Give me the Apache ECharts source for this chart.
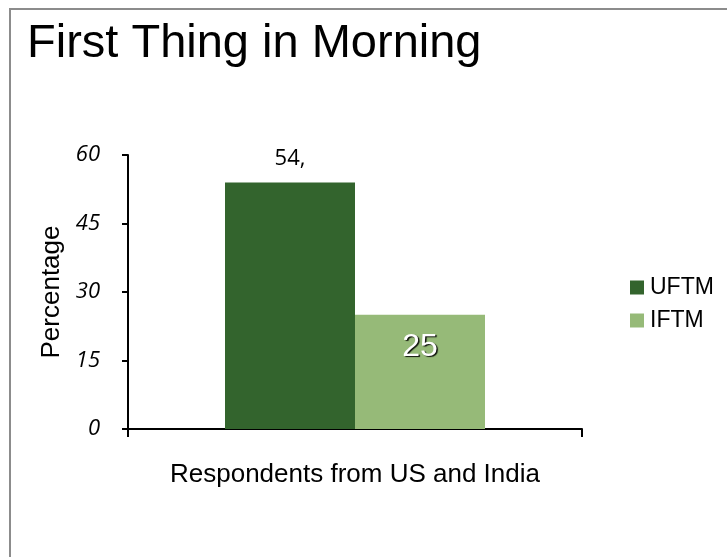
<!DOCTYPE html>
<html>
<head>
<meta charset="utf-8">
<script src="https://cdn.jsdelivr.net/npm/echarts@6/dist/echarts.min.js"></script>
<style>
    html, body { margin: 0; padding: 0; background: #fff; }
    #main { width: 727px; height: 557px; }
</style>
</head>
<body>
<div id="main"></div>
<script>
// data
var categories = ['Respondents from US and India'];
var seriesNames = ['UFTM', 'IFTM'];
var uftmValues = [54];
var iftmValues = [25];
var yTicks = [0, 15, 30, 45, 60];

var myChart = echarts.init(document.getElementById('main'));

//---------options
var option = {
    backgroundColor: '#fff',
    animation: false,
    title: {
        text: 'First Thing in Morning',
        left: 22,
        top: 16,
        textStyle: {
            fontFamily: 'Liberation Sans',
            fontSize: 47,
            fontWeight: 'normal',
            color: '#000'
        }
    },
    graphic: [{
        type: 'polyline',
        shape: { points: [[10, 557], [10, 9], [727, 9]] },
        style: { stroke: '#8c8c8c', lineWidth: 2, fill: null }
    }],
    legend: {
        orient: 'vertical',
        left: 625,
        top: 271,
        itemWidth: 14,
        itemHeight: 14,
        itemGap: 10,
        icon: 'rect',
        data: seriesNames,
        textStyle: {
            fontFamily: 'Liberation Sans',
            fontSize: 23,
            color: '#000',
            padding: [0, 0, 0, 1]
        }
    },
    grid: {
        left: 128,
        right: 145,
        top: 155,
        bottom: 128
    },
    xAxis: {
        type: 'category',
        data: categories,
        name: categories[0],
        nameLocation: 'middle',
        nameGap: 33,
        nameTextStyle: {
            fontFamily: 'Liberation Sans',
            fontSize: 26,
            color: '#000'
        },
        axisLine: { lineStyle: { color: '#000', width: 2 } },
        axisTick: { show: true, length: 8, lineStyle: { color: '#000', width: 2 } },
        axisLabel: { show: false }
    },
    yAxis: {
        type: 'value',
        min: yTicks[0],
        max: yTicks[yTicks.length - 1],
        interval: 15,
        name: 'Percentage',
        nameLocation: 'middle',
        nameGap: 63,
        nameTextStyle: {
            fontFamily: 'Liberation Sans',
            fontSize: 26,
            color: '#000'
        },
        axisLine: { show: true, lineStyle: { color: '#000', width: 2 } },
        axisTick: { show: true, length: 6, lineStyle: { color: '#000', width: 2 } },
        splitLine: { show: false },
        axisLabel: {
            margin: 28,
            fontFamily: 'Open Sans',
            fontStyle: 'italic',
            fontSize: 22,
            color: '#000'
        }
    },
    series: [{
        name: seriesNames[0],
        type: 'bar',
        data: uftmValues,
        barWidth: 130,
        barGap: '0%',
        itemStyle: { color: '#33642D' },
        label: {
            show: true,
            position: 'top',
            distance: 13,
            formatter: '{c},',
            fontFamily: 'Open Sans',
            fontSize: 22,
            color: '#000'
        }
    }, {
        name: seriesNames[1],
        type: 'bar',
        data: iftmValues,
        barWidth: 130,
        barGap: '0%',
        itemStyle: { color: '#96BA78' },
        label: {
            show: true,
            position: 'insideTop',
            distance: 16,
            fontFamily: 'Liberation Sans',
            fontSize: 32,
            color: '#fff',
            textShadowColor: 'rgba(0,0,0,0.9)',
            textShadowBlur: 1,
            textShadowOffsetX: 1.5,
            textShadowOffsetY: 1.5
        }
    }]
};

myChart.setOption(option);
</script>
</body>
</html>
